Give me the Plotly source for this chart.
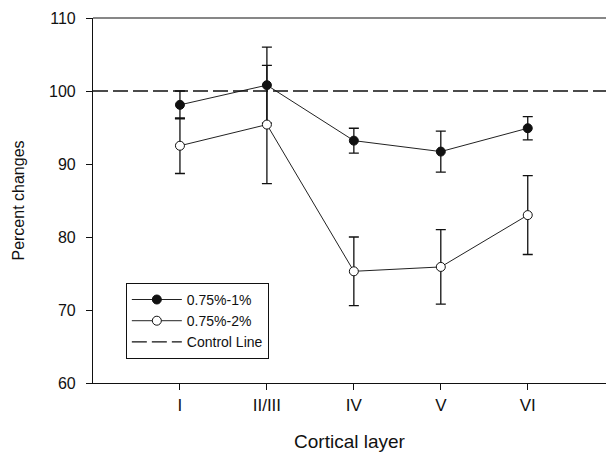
import plotly.graph_objects as go

layers = ["I", "II/III", "IV", "V", "VI"]
layer_pos = [1, 2, 3, 4, 5]
s1_name = "0.75%-1%"
s1_vals = [98.1, 100.8, 93.2, 91.7, 94.9]
s1_err = [1.9, 5.2, 1.7, 2.8, 1.6]
s2_name = "0.75%-2%"
s2_vals = [92.5, 95.4, 75.3, 75.9, 83.0]
s2_err = [3.8, 8.1, 4.7, 5.1, 5.4]
control_name = "Control Line"
control_val = 100
x_range = [0, 5.9]
y_range = [60, 110]
y_ticks = [60, 70, 80, 90, 100, 110]

FONT = "Liberation Sans, Arial, sans-serif"

fig = go.Figure()

fig.add_trace(go.Scatter(
    x=layer_pos, y=s1_vals, mode="lines+markers", name=s1_name,
    line=dict(color="#222", width=1),
    marker=dict(symbol="circle", size=9, color="#111", line=dict(color="#111", width=1)),
    error_y=dict(type="data", array=s1_err, visible=True, color="#111", thickness=1.3, width=5),
))

fig.add_trace(go.Scatter(
    x=layer_pos, y=s2_vals, mode="lines+markers", name=s2_name,
    line=dict(color="#222", width=1),
    marker=dict(symbol="circle", size=9, color="white", line=dict(color="#111", width=1)),
    error_y=dict(type="data", array=s2_err, visible=True, color="#111", thickness=1.3, width=5),
))

fig.add_trace(go.Scatter(
    x=x_range, y=[control_val, control_val], mode="lines", name=control_name,
    line=dict(color="#111", width=1.3, dash="15px,5px"), showlegend=True,
))

fig.update_layout(
    width=606, height=455,
    margin=dict(l=93, r=0, t=18, b=72),
    paper_bgcolor="white", plot_bgcolor="white",
    font=dict(family=FONT, color="#111"),
    showlegend=True,
    legend=dict(
        x=0.064, y=0.066, xanchor="left", yanchor="bottom",
        bgcolor="white", bordercolor="#111", borderwidth=1,
        font=dict(size=14, family=FONT, color="#111"),
        traceorder="normal",
        itemwidth=50,
        tracegroupgap=0,
    ),
    xaxis=dict(
        range=x_range, tickvals=layer_pos, ticktext=layers,
        showgrid=False, zeroline=False, showline=True, linecolor="#111", linewidth=1.2,
        ticks="outside", ticklen=6, tickcolor="#111", tickwidth=1.2,
        tickfont=dict(size=17, family=FONT, color="#111"),
        title=dict(text="Cortical layer", font=dict(size=19, family=FONT, color="#111"), standoff=21),
    ),
    yaxis=dict(
        range=y_range, tickvals=y_ticks,
        showgrid=False, zeroline=False, showline=True, linecolor="#111", linewidth=1.2,
        ticks="outside", ticklen=6, tickcolor="#111", tickwidth=1.2,
        ticklabelstandoff=7,
        tickfont=dict(size=16, family=FONT, color="#111"),
        title=dict(text="Percent changes", font=dict(size=16, family=FONT, color="#111"), standoff=20),
    ),
    shapes=[dict(type="line", xref="paper", yref="paper", x0=0, x1=1, y0=1, y1=1,
                 line=dict(color="#111", width=1.2))],
)

fig.write_html("out.html")
